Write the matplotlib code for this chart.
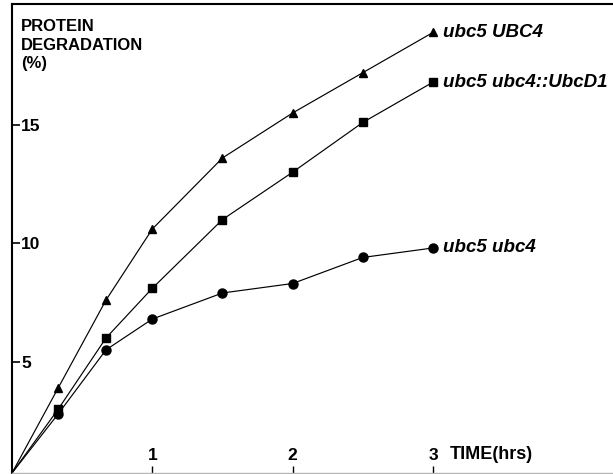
import matplotlib
matplotlib.use("Agg")
import matplotlib.pyplot as plt
import matplotlib.transforms as mtransforms

plt.rcParams['font.family'] = ['Liberation Sans', 'DejaVu Sans']

# time points (hours) and degradation values (%)
time_hrs = [0, 0.33, 0.67, 1.0, 1.5, 2.0, 2.5, 3.0]
ubc5_UBC4 = [0.3, 3.9, 7.6, 10.6, 13.6, 15.5, 17.2, 18.9]
ubc5_ubc4_UbcD1 = [0.3, 3.0, 6.0, 8.1, 11.0, 13.0, 15.1, 16.8]
ubc5_ubc4 = [0.3, 2.8, 5.5, 6.8, 7.9, 8.3, 9.4, 9.8]

series_names = ["ubc5 UBC4", "ubc5 ubc4::UbcD1", "ubc5 ubc4"]
series_vals = [ubc5_UBC4, ubc5_ubc4_UbcD1, ubc5_ubc4]
series_markers = ["^", "s", "o"]
marker_sizes = [6, 5.5, 6.5]

x_ticks = [1, 2, 3]
y_ticks = [5, 10, 15]

fig = plt.figure(figsize=(6.13, 4.74), dpi=100)
ax = fig.add_axes([12 / 613, 1 / 474, 601 / 613, 469 / 474])

for name, vals, mk, ms in zip(series_names, series_vals, series_markers, marker_sizes):
    ax.plot(time_hrs, vals, color='black', linewidth=0.85, marker=mk,
            markersize=ms, markevery=list(range(1, len(vals))))
    ax.annotate(name, xy=(time_hrs[-1], vals[-1]), xytext=(7, 0),
                textcoords='offset points', va='center', ha='left',
                fontsize=13.5, fontweight='bold', fontstyle='italic')

ax.set_xlim(0, 4.283)
ax.set_ylim(0.3, 20.1)

# spines
ax.spines['right'].set_visible(False)
ax.spines['left'].set_linewidth(1.5)
ax.spines['top'].set_linewidth(1.5)
ax.spines['bottom'].set_color('#b5b5b5')
ax.spines['bottom'].set_linewidth(1.0)

# ticks inside, labels inside
ax.set_xticks(x_ticks)
ax.set_xticklabels([str(t) for t in x_ticks])
ax.set_yticks(y_ticks)
ax.set_yticklabels([str(t) for t in y_ticks])
ax.tick_params(axis='y', direction='in', length=6, width=1.2, pad=-6.5,
               labelsize=12.5)
ax.tick_params(axis='x', direction='in', length=5, width=1.0, pad=-7,
               labelsize=12.5, color='black')
for lab in ax.get_yticklabels():
    lab.set_horizontalalignment('left')
    lab.set_fontweight('bold')
for lab in ax.get_xticklabels():
    lab.set_verticalalignment('bottom')
    lab.set_fontweight('bold')

# axis titles
trans = mtransforms.blended_transform_factory(ax.transData, ax.transAxes)
ax.annotate("TIME(hrs)", xy=(3, 0), xycoords=trans, xytext=(12, 7),
            textcoords='offset points', ha='left', va='bottom',
            fontsize=13, fontweight='bold')
ax.text(0.015, 0.968, "PROTEIN\nDEGRADATION\n(%)", transform=ax.transAxes,
        ha='left', va='top', fontsize=12, fontweight='bold', linespacing=1.3)

fig.savefig("out.png", dpi=100, facecolor='white')
